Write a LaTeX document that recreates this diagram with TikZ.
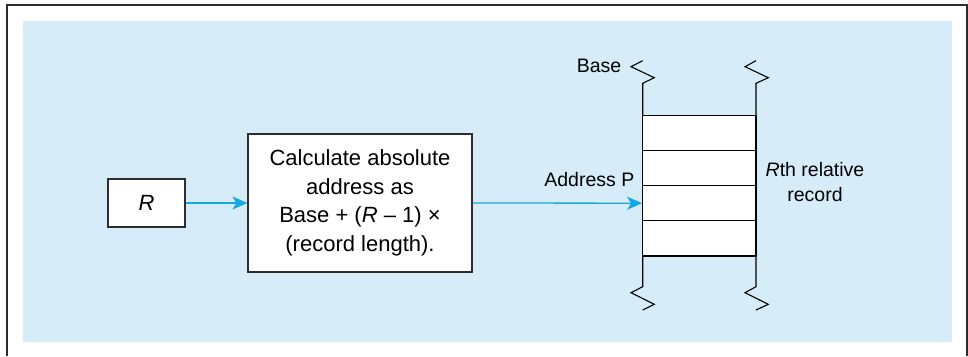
\documentclass[tikz,border=0pt]{standalone}
\usepackage{fontspec}
\setmainfont{Liberation Sans}
\usetikzlibrary{arrows.meta}
\definecolor{bgblue}{RGB}{214,236,249}
\definecolor{arrblue}{RGB}{20,168,228}
\definecolor{edge}{RGB}{45,45,45}
\tikzset{
  boxstyle/.style={draw=edge, line width=1.2pt, fill=white, inner sep=0pt, align=center,
    font=\fontsize{22}{28.5}\selectfont},
  rowstyle/.style={draw=black, line width=1.1pt, fill=white, minimum width=113.3pt, minimum height=35.2pt, inner sep=0pt},
  lbl/.style={font=\fontsize{19.5}{24.3}\selectfont, inner sep=0pt, align=center},
  arr/.style={draw=arrblue, line width=1.3pt, -{Stealth[length=15pt,width=13pt,inset=4pt]}},
  wall/.style={draw=black, line width=1.1pt}
}
\begin{document}
\begin{tikzpicture}[x=1pt,y=-1pt]
\useasboundingbox (0,0) rectangle (968,356);
% outer frame
\draw[line width=2pt, draw=edge] (6.5,356) -- (6.5,5) -- (967,5) -- (967,356);
% background
\fill[bgblue] (23,21) rectangle (952,342);
% walls of the file
\draw[wall] (642.7,60.7) -- (631,66.7) -- (654.3,77.7) -- (642.7,83.3) -- (642.7,286.7) -- (631,292.7) -- (654.3,304.3) -- (642.7,310);
\draw[wall] (756,60.7) -- (745,66.7) -- (768.3,77.7) -- (756,83.3) -- (756,286.7) -- (745,292.7) -- (768.3,304.3) -- (756,310);
% records
\node[rowstyle] (row1) at (699.35,132.9) {};
\node[rowstyle] (row2) at (699.35,168.1) {};
\node[rowstyle] (row3) at (699.35,203.2) {};
\node[rowstyle] (row4) at (699.35,238.35) {};
% boxes
\node[boxstyle, minimum width=77pt, minimum height=48pt] (rbox) at (146.5,203) {\itshape R};
\node[boxstyle, minimum width=224pt, minimum height=138pt] (calc) at (360,203) {Calculate absolute\\address as\\Base + (\textit{R} – 1) ×\\(record length).};
% labels
\node[lbl] (base) at (599,65.5) {Base};
\node[lbl, anchor=east] (addr) at (634.5,179.5) {Address P};
\node[lbl] (rth) at (815,182) {\textit{R}th relative\\record};
% connectors
\draw[arr] (rbox.east) -- (calc.west);
\draw[arr] (calc.east) -- (row3.west);
\end{tikzpicture}
\end{document}
